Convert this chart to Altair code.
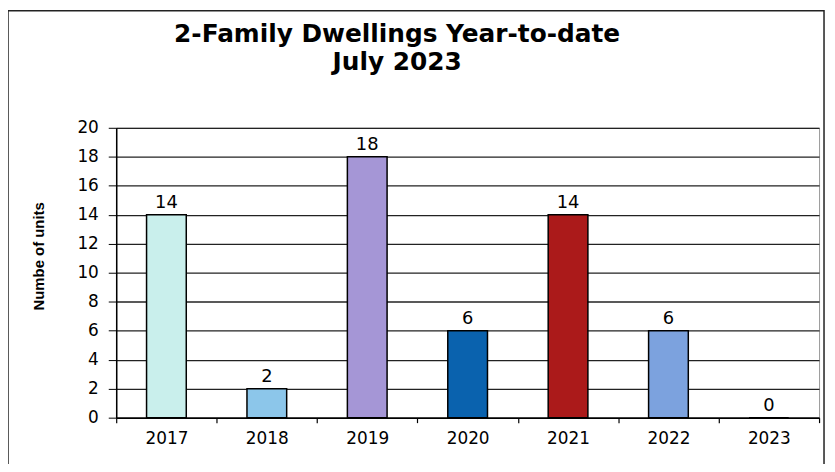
import altair as alt
import pandas as pd

years = ["2017", "2018", "2019", "2020", "2021", "2022", "2023"]
units = [14, 2, 18, 6, 14, 6, 0]
bar_colors = ["#c9efec", "#8cc6ea", "#a596d6", "#0a62ae", "#ab1a1a", "#7ca2de", "#ffffff"]
title_lines = ["2-Family Dwellings Year-to-date", "July 2023"]
y_title = "Numbe of units"
y_ticks = list(range(0, 21, 2))

FONT = "DejaVu Sans"

df = pd.DataFrame({"year": years, "units": units, "color": bar_colors})

x_enc = alt.X(
    "year:N", sort=years, title=None,
    scale=alt.Scale(paddingInner=0, paddingOuter=0),
    axis=alt.Axis(labelAngle=0, tickBand="extent", tickSize=5, tickColor="black",
                  tickWidth=1.2, labelFontSize=17, labelFont=FONT, labelColor="black",
                  labelPadding=8, domainColor="black", domainWidth=1.5, grid=False),
)
y_enc = alt.Y(
    "units:Q",
    scale=alt.Scale(domain=[0, 20]),
    axis=alt.Axis(values=y_ticks, labelOverlap=False, title=y_title, titleFontSize=15,
                  titleFont="Liberation Sans", titleFontWeight="bold", titleColor="black",
                  titleAngle=-90, titleBaseline="middle", titleAlign="center",
                  titleX=-78, titleY=129,
                  grid=True, gridColor="#222222", gridWidth=1.3, tickSize=8,
                  tickColor="black", labelFontSize=17, labelFont=FONT,
                  labelColor="black", labelPadding=10, domainColor="black",
                  domainWidth=1.5),
)

base = alt.Chart(df).encode(x=x_enc, y=y_enc)

bars = base.mark_bar(size=40, stroke="black", strokeWidth=1.5).encode(
    color=alt.Color("color:N", scale=None),
)

labels = base.mark_text(baseline="bottom", dy=-3, fontSize=18, font=FONT, color="black").encode(
    text=alt.Text("units:Q"),
)

title_df = pd.DataFrame({"t": ["\n".join(title_lines)]})
title = alt.Chart(title_df).mark_text(
    lineBreak="\n", fontSize=25, fontWeight="bold", font=FONT, color="black",
    align="center", baseline="middle", lineHeight=28,
).encode(x=alt.value(283), y=alt.value(-94), text="t:N")

frame = alt.Chart(title_df).mark_rect(filled=False, stroke="#222", strokeWidth=1.5).encode(
    x=alt.value(-109), x2=alt.value(713), y=alt.value(-118), y2=alt.value(340)
)

chart = alt.layer(frame, bars, labels, title).properties(
    width=708, height=292,
    padding={"left": 109, "top": 119, "right": 8, "bottom": 45},
    autosize=alt.AutoSizeParams(type="none"),
    background="white",
).configure_view(stroke="#999", strokeWidth=1)

chart.save("out.html", embed_options={"renderer": "svg", "actions": False})
